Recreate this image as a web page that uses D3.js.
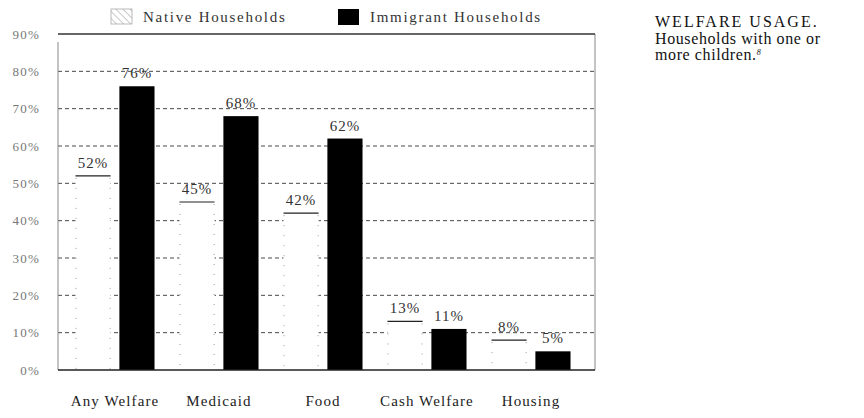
<!DOCTYPE html>
<html>
<head>
<meta charset="utf-8">
<script src="https://cdn.jsdelivr.net/npm/d3@7"></script>
<style>
  body { margin: 0; background: #fff; }
  svg text { font-family: "Liberation Serif", "DejaVu Serif", serif; }
</style>
</head>
<body>
<div id="chart"></div>
<script>
const categories = ['Any Welfare', 'Medicaid', 'Food', 'Cash Welfare', 'Housing'];
const nativeValues = [52, 45, 42, 13, 8];
const immigrantValues = [76, 68, 62, 11, 5];
const seriesNames = ['Native Households', 'Immigrant Households'];
const yTicks = [0, 10, 20, 30, 40, 50, 60, 70, 80, 90];

const width = 864, height = 418;
const frame = { left: 58, right: 595, top: 34, bottom: 370 };

const rows = categories.map((c, i) => ({
  cat: c,
  vals: [
    { key: 'native', value: nativeValues[i] },
    { key: 'immigrant', value: immigrantValues[i] }
  ]
}));

const svg = d3.select('#chart')
  .append('svg')
  .attr('width', width)
  .attr('height', height);

const defs = svg.append('defs');
defs.append('pattern')
  .attr('id', 'hatch')
  .attr('patternUnits', 'userSpaceOnUse')
  .attr('width', 5)
  .attr('height', 5)
  .attr('patternTransform', 'rotate(-45)')
  .append('line')
  .attr('x1', 0).attr('y1', 0)
  .attr('x2', 0).attr('y2', 5)
  .attr('stroke', '#777')
  .attr('stroke-width', 0.8);

const x0 = d3.scaleBand()
  .domain(categories)
  .range([63, 583])
  .paddingInner(0.24)
  .paddingOuter(0.12);

const x1 = d3.scaleBand()
  .domain(['native', 'immigrant'])
  .range([0, x0.bandwidth()])
  .paddingInner(0.2);

const y = d3.scaleLinear()
  .domain([0, 90])
  .range([frame.bottom, frame.top]);

// gridlines (dashed)
svg.append('g')
  .selectAll('line')
  .data(yTicks.filter(d => d > 0 && d < 90))
  .join('line')
  .attr('x1', frame.left)
  .attr('x2', frame.right)
  .attr('y1', d => y(d))
  .attr('y2', d => y(d))
  .attr('stroke', '#333')
  .attr('stroke-width', 0.9)
  .attr('stroke-dasharray', '4,3');

// frame
svg.append('line')
  .attr('x1', frame.left).attr('x2', frame.left)
  .attr('y1', frame.top + 8).attr('y2', frame.bottom)
  .attr('stroke', '#888').attr('stroke-width', 1);
svg.append('line')
  .attr('x1', frame.right).attr('x2', frame.right)
  .attr('y1', frame.top).attr('y2', frame.bottom)
  .attr('stroke', '#888').attr('stroke-width', 1);
svg.append('line')
  .attr('x1', frame.left).attr('x2', frame.right)
  .attr('y1', frame.top).attr('y2', frame.top)
  .attr('stroke', '#333').attr('stroke-width', 1.3);

// y axis labels
const yAxis = d3.axisLeft(y)
  .tickValues(yTicks)
  .tickFormat(d => d + '%')
  .tickSize(0)
  .tickPadding(0);

const yg = svg.append('g')
  .attr('transform', 'translate(40,0)')
  .call(yAxis);
yg.select('.domain').remove();
yg.selectAll('text')
  .attr('fill', '#777')
  .style('font-size', '13px')
  .style('letter-spacing', '1.2px');

// bars
const groups = svg.append('g')
  .selectAll('g')
  .data(rows)
  .join('g')
  .attr('transform', d => `translate(${x0(d.cat)},0)`);

const bars = groups.selectAll('g.bar')
  .data(d => d.vals)
  .join('g')
  .attr('class', 'bar');

bars.append('rect')
  .attr('x', d => x1(d.key))
  .attr('y', d => y(d.value))
  .attr('width', x1.bandwidth())
  .attr('height', d => y(0) - y(d.value))
  .attr('fill', d => d.key == 'native' ? '#fff' : '#000');

// dotted sides of the native (white) bars
bars.filter(d => d.key == 'native').each(function(d) {
  const g = d3.select(this);
  [x1(d.key) + 0.5, x1(d.key) + x1.bandwidth() - 0.5].forEach(xx => {
    g.append('line')
      .attr('x1', xx).attr('x2', xx)
      .attr('y1', y(d.value) + 2).attr('y2', y(0))
      .attr('stroke', '#999')
      .attr('stroke-width', 1)
      .attr('stroke-dasharray', '1,9');
  });
  g.append('line')
    .attr('x1', x1(d.key)).attr('x2', x1(d.key) + x1.bandwidth())
    .attr('y1', y(d.value)).attr('y2', y(d.value))
    .attr('stroke', '#222')
    .attr('stroke-width', 1.2);
});

// value labels
bars.append('text')
  .attr('x', d => x1(d.key) + x1.bandwidth() / 2)
  .attr('y', d => y(d.value) - 8)
  .attr('text-anchor', 'middle')
  .attr('fill', '#333')
  .style('font-size', '15px')
  .style('letter-spacing', '1px')
  .text(d => d.value + '%');

// bottom baseline
svg.append('line')
  .attr('x1', frame.left).attr('x2', frame.right)
  .attr('y1', y(0)).attr('y2', y(0))
  .attr('stroke', '#222').attr('stroke-width', 1.3);

// category labels
svg.append('g')
  .selectAll('text')
  .data(categories)
  .join('text')
  .attr('x', d => x0(d) + x0.bandwidth() / 2)
  .attr('y', 406)
  .attr('text-anchor', 'middle')
  .attr('fill', '#222')
  .style('font-size', '15px')
  .style('letter-spacing', '1.1px')
  .text(d => d);

// legend
const legend = svg.append('g');
legend.append('rect')
  .attr('x', 111).attr('y', 9)
  .attr('width', 21).attr('height', 15)
  .attr('fill', 'url(#hatch)')
  .attr('stroke', '#aaa')
  .attr('stroke-width', 0.8);
legend.append('rect')
  .attr('x', 338).attr('y', 9)
  .attr('width', 21).attr('height', 16)
  .attr('fill', '#000');
legend.selectAll('text')
  .data(seriesNames)
  .join('text')
  .attr('x', (d, i) => i == 0 ? 143 : 370)
  .attr('y', 22)
  .attr('fill', '#333')
  .style('font-size', '15px')
  .style('letter-spacing', '1.7px')
  .text(d => d);

// title block on the right
const note = svg.append('text')
  .attr('x', 655)
  .attr('y', 27)
  .attr('fill', '#111')
  .style('font-size', '16px');
note.append('tspan')
  .style('letter-spacing', '2px')
  .text('WELFARE USAGE.');
note.append('tspan')
  .attr('x', 655).attr('dy', 17)
  .style('letter-spacing', '0.6px')
  .text('Households with one or');
note.append('tspan')
  .attr('x', 655).attr('dy', 16)
  .style('letter-spacing', '0.6px')
  .text('more children.');
note.append('tspan')
  .attr('dy', -5)
  .style('font-size', '8px')
  .style('font-style', 'italic')
  .text('8');
</script>
</body>
</html>
